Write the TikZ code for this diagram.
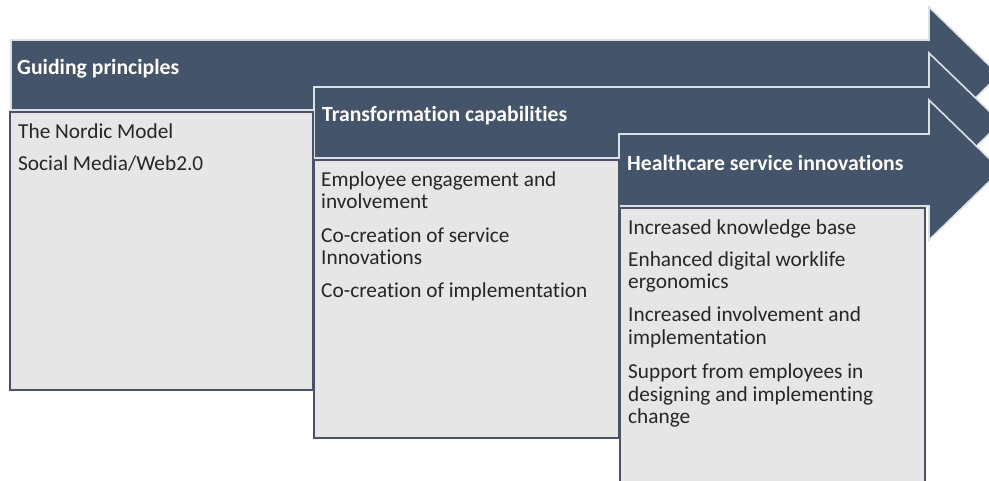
\documentclass[tikz,border=0pt]{standalone}
\usepackage{fontspec}
\setmainfont{Carlito}[Ligatures=NoCommon]
\definecolor{arrowblue}{HTML}{44546A}
\definecolor{boxgray}{HTML}{E6E6E6}
\definecolor{boxline}{HTML}{4B5265}
\definecolor{outl}{HTML}{DCE1E8}
\definecolor{txt}{HTML}{262626}
\begin{document}
\begin{tikzpicture}[x=1pt,y=-1pt,
  arrowshape/.style={fill=arrowblue, draw=outl, line width=1.6pt, line join=miter},
  panel/.style={fill=boxgray, draw=boxline, line width=1.4pt},
  title/.style={anchor=base west, inner sep=0pt, text=white, font=\fontsize{21.7}{25}\selectfont\bfseries},
  item/.style={anchor=base west, inner sep=0pt, text=txt, font=\fontsize{21.3}{25}\selectfont}]
\useasboundingbox (0,0) rectangle (989,480);
\clip (0,0) rectangle (989,480);
% arrows
\draw[arrowshape] (11,40) -- (929,40) -- (929,7) -- (999,75) -- (929,143) -- (929,110) -- (11,110) -- cycle;
\draw[arrowshape] (314,87) -- (929,87) -- (929,53) -- (1001,122.5) -- (929,192) -- (929,158) -- (314,158) -- cycle;
\draw[arrowshape] (619,134) -- (929,134) -- (929,100) -- (1001,170) -- (929,240) -- (929,206) -- (619,206) -- cycle;
% panels
\draw[panel] (10,112) rectangle (313,390);
\draw[panel] (314,160) rectangle (619,438);
\draw[panel] (620,208) rectangle (925,486);
% titles
\node[title] (t1) at (17,74) {Guiding principles};
\node[title] (t2) at (322,121) {Transformation capabilities};
\node[title] (t3) at (627,170) {Healthcare service innovations};
% box 1
\node[item] (a1) at (18,138) {The Nordic Model};
\node[item] (a2) at (18,170) {Social Media/Web2.0};
% box 2
\node[item] (b1) at (321,186) {Employee engagement and};
\node[item] (b2) at (321,208) {involvement};
\node[item] (b3) at (321,242) {Co-creation of service};
\node[item] (b4) at (321,264) {Innovations};
\node[item] (b5) at (321,297) {Co-creation of implementation};
% box 3
\node[item] (c1) at (628,234) {Increased knowledge base};
\node[item] (c2) at (628,266) {Enhanced digital worklife};
\node[item] (c3) at (628,288) {ergonomics};
\node[item] (c4) at (628,321) {Increased involvement and};
\node[item] (c5) at (628,344) {implementation};
\node[item] (c6) at (628,378) {Support from employees in};
\node[item] (c7) at (628,401) {designing and implementing};
\node[item] (c8) at (628,423) {change};
\end{tikzpicture}
\end{document}
